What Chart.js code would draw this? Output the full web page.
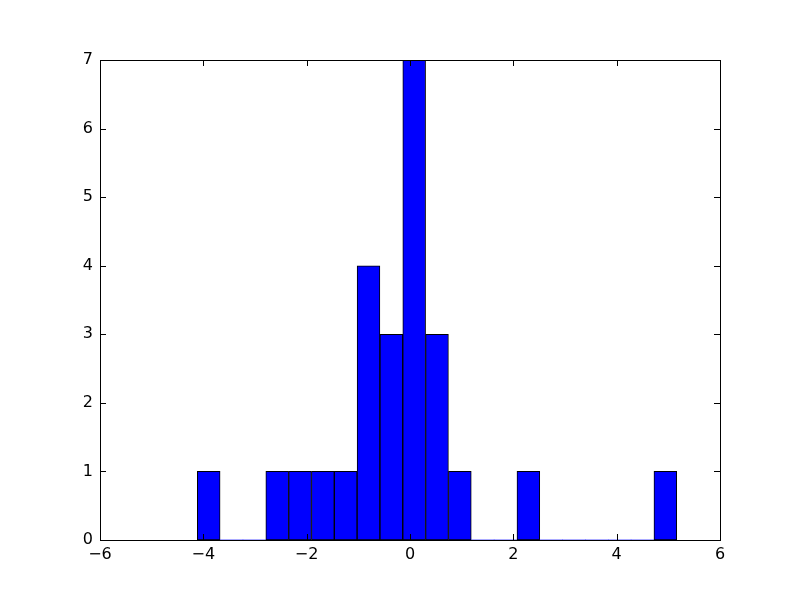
<!DOCTYPE html>
<html>
<head>
<meta charset="utf-8">
<script src="https://cdn.jsdelivr.net/npm/chart.js"></script>
<style>
  html, body { margin: 0; padding: 0; background: #fff; }
  #wrap { width: 800px; height: 600px; }
</style>
</head>
<body>
<div id="wrap"><canvas id="hist" width="800" height="600"></canvas></div>
<script>
// bin centres (width ~0.442) and counts
const binCenters = [-3.896, -3.454, -3.012, -2.570, -2.128, -1.686, -1.245, -0.803, -0.361, 0.081,
                    0.523, 0.965, 1.407, 1.849, 2.291, 2.733, 3.175, 3.616, 4.058, 4.500, 4.942];
const counts = [1, 0, 0, 1, 1, 1, 1, 4, 3, 7, 3, 1, 0, 0, 1, 0, 0, 0, 0, 0, 1];
const xTicks = [-6, -4, -2, 0, 2, 4, 6];
const yTicks = [0, 1, 2, 3, 4, 5, 6, 7];

const points = binCenters.map((c, i) => ({ x: c, y: counts[i] }));
const fnt = { family: 'DejaVu Sans', size: 16 };
const minus = v => String(v).replace('-', '\u2212');

// matplotlib classic look: black frame with inward ticks on all sides
const framePlugin = {
    id: 'frame',
    afterDatasetsDraw(chart) {
        const { ctx, chartArea: a, scales } = chart;
        ctx.save();
        ctx.strokeStyle = '#000';
        ctx.lineWidth = 1;
        ctx.beginPath();
        xTicks.forEach(t => {
            const px = Math.round(scales.x.getPixelForValue(t)) + 0.5;
            ctx.moveTo(px, a.bottom); ctx.lineTo(px, a.bottom - 6);
            ctx.moveTo(px, a.top); ctx.lineTo(px, a.top + 6);
        });
        yTicks.forEach(t => {
            const py = Math.round(scales.y.getPixelForValue(t)) + 0.5;
            ctx.moveTo(a.left, py); ctx.lineTo(a.left + 6, py);
            ctx.moveTo(a.right, py); ctx.lineTo(a.right - 6, py);
        });
        ctx.stroke();
        ctx.strokeRect(Math.round(a.left) + 0.5, Math.round(a.top) + 0.5,
                       Math.round(a.right - a.left), Math.round(a.bottom - a.top));
        ctx.restore();
    }
};

new Chart(document.getElementById('hist').getContext('2d'), {
    type: 'bar',
    data: {
        datasets: [{
            data: points,
            backgroundColor: '#0000ff',
            borderColor: '#000000',
            borderWidth: c => (c.raw && c.raw.y > 0 ? 1 : 0),
            borderSkipped: false,
            barPercentage: 1.0,
            categoryPercentage: 1.0,
        }],
    },
    options: {
        responsive: false,
        animation: false,
        layout: { padding: { left: 0, top: 60, right: 80, bottom: 0 } },
        plugins: { legend: { display: false }, tooltip: { enabled: false } },
        scales: {
            x: {
                type: 'linear',
                min: -6, max: 6,
                offset: false,
                grid: { display: false, drawTicks: false },
                border: { display: false },
                afterBuildTicks: s => { s.ticks = xTicks.map(v => ({ value: v })); },
                afterFit: s => { s.height = 60; },
                ticks: { color: '#000', font: fnt, padding: 5, maxRotation: 0, callback: v => minus(v) },
            },
            y: {
                min: 0, max: 7,
                grid: { display: false, drawTicks: false },
                border: { display: false },
                afterBuildTicks: s => { s.ticks = yTicks.map(v => ({ value: v })); },
                afterFit: s => { s.width = 100; },
                ticks: { color: '#000', font: fnt, padding: 7, callback: v => minus(v) },
            },
        },
    },
    plugins: [framePlugin],
});
</script>
</body>
</html>
